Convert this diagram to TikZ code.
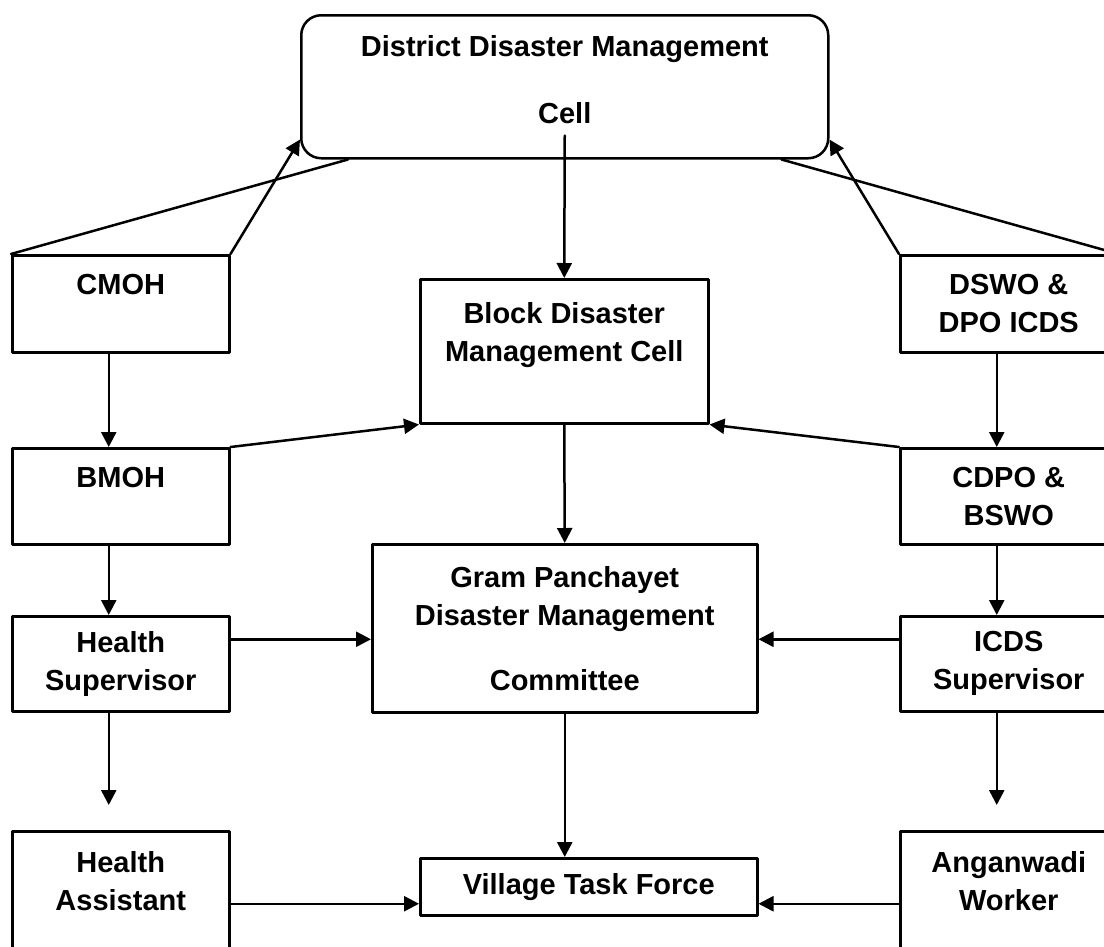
\documentclass[tikz,border=0pt]{standalone}
\usepackage{fontspec}
\setmainfont{Liberation Sans}
\usetikzlibrary{arrows.meta}

\begin{document}
\begin{tikzpicture}[x=1pt,y=-1pt,line join=round,line cap=round,>={Triangle[length=15pt,width=15pt]},line width=2.5pt]
	\tikzset{box/.style={draw,rectangle,anchor=north west,align=center,inner sep=0pt,font=\fontsize{29pt}{38pt}\selectfont\bfseries}}
	\fill[white] (0,0) rectangle (1104,946);
	\useasboundingbox (0,0) rectangle (1104,946);
	% district level
	\node[box,rounded corners=20pt,minimum width=527pt,minimum height=143pt] (ddmc) at (300,14) {District Disaster Management\\[29pt]Cell\\[-24pt]~};
	\node[box,minimum width=217pt,minimum height=97pt] (cmoh) at (11,254) {CMOH\\~};
	\node[box,minimum width=217pt,minimum height=97pt] (dswo) at (899,254) {DSWO \&\\DPO ICDS};
	% block level
	\node[box,minimum width=288pt,minimum height=144pt] (bdmc) at (419,278) {Block Disaster\\Management Cell\\~};
	\node[box,minimum width=217pt,minimum height=96pt] (bmoh) at (11,447) {BMOH\\~};
	\node[box,minimum width=217pt,minimum height=96pt] (cdpo) at (899,447) {CDPO \&\\BSWO};
	% gram panchayet level
	\node[box,minimum width=385pt,minimum height=168pt] (gp) at (371,543) {Gram Panchayet\\Disaster Management\\[27pt]Committee};
	\node[box,minimum width=217pt,minimum height=95pt] (hs) at (11,615) {Health\\Supervisor};
	\node[box,minimum width=217pt,minimum height=95pt] (icds) at (899,615) {ICDS\\Supervisor};
	% village level
	\node[box,minimum width=217pt,minimum height=138pt] (ha) at (11,830) {Health\\Assistant\\~};
	\node[box,minimum width=217pt,minimum height=138pt] (aw) at (899,830) {Anganwadi\\Worker\\~};
	\node[box,minimum width=337pt,minimum height=57pt] (vtf) at (419,857) {Village Task Force};

	\draw[->] (cmoh.north east) -- ([yshift=20pt]ddmc.south west);
	\draw (cmoh.north west) -- ([xshift=48pt]ddmc.south west);
	\draw[->] (dswo.north west) -- ([yshift=20pt]ddmc.south east);
	\draw (dswo.north east) -- ([xshift=-48pt]ddmc.south east);
	\draw[->] ([yshift=24pt]ddmc.south) -- (bdmc.north);
	\foreach \a/\b in {cmoh/bmoh,bmoh/hs,dswo/cdpo,cdpo/icds}
	\draw[->] ([xshift=-12pt]\a.south) -- ([xshift=-12pt]\b.north);
	\coordinate (hsend) at ([xshift=-12pt,yshift=25pt]ha.north);
	\coordinate (icdsend) at ([xshift=-12pt,yshift=25pt]aw.north);
	\draw[->] ([xshift=-12pt]hs.south) -- (hsend);
	\draw[->] ([xshift=-12pt]icds.south) -- (icdsend);
	\draw[->] (bmoh.north east) -- (bdmc.south west);
	\draw[->] (cdpo.north west) -- (bdmc.south east);
	\draw[->] (bdmc.south) -- (gp.north);
	\coordinate (gpin1) at ([yshift=-11pt]gp.west);
	\coordinate (gpin2) at ([yshift=-11pt]gp.east);
	\draw[->] (gpin1 -| hs.east) -- (gpin1);
	\draw[->] (gpin2 -| icds.west) -- (gpin2);
	\draw[->] (gp.south) -- (gp.south |- vtf.north);
	\coordinate (vtfin1) at ([yshift=-17pt]vtf.west);
	\coordinate (vtfin2) at ([yshift=-17pt]vtf.east);
	\draw[->] (vtfin1 -| ha.east) -- (vtfin1);
	\draw[->] (vtfin2 -| aw.west) -- (vtfin2);
\end{tikzpicture}
\end{document}
